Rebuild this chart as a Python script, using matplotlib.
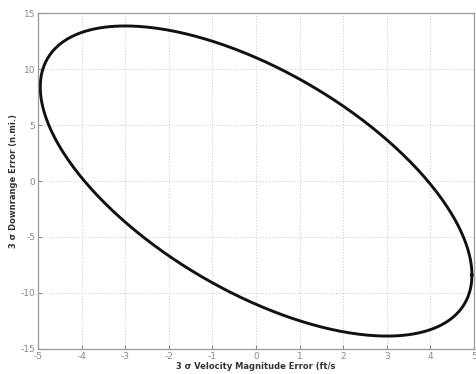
import numpy as np
import matplotlib
matplotlib.use('Agg')
import matplotlib.pyplot as plt

plt.rcParams['axes.unicode_minus'] = False

# 3-sigma error ellipse values
sigma3_vel = 4.95      # ft/s, max horizontal extent
sigma3_down = 13.85    # n.mi., max vertical extent
rho = -0.606           # correlation
x_ticks = [-5, -4, -3, -2, -1, 0, 1, 2, 3, 4, 5]
y_ticks = [-15, -10, -5, 0, 5, 10, 15]

t = np.linspace(0, 2 * np.pi, 400)
vel_err = sigma3_vel * np.cos(t)
down_err = sigma3_down * (rho * np.cos(t) + np.sqrt(1 - rho ** 2) * np.sin(t))

fig = plt.figure(figsize=(4.76, 3.74), dpi=100)
ax = fig.add_axes([0.08, 0.067, 0.916, 0.898])
ax.plot(vel_err, down_err, color='#111111', linewidth=2.1)

ax.set_xlim(-5, 5)
ax.set_ylim(-15, 15)
ax.set_xticks(x_ticks)
ax.set_yticks(y_ticks)
ax.grid(True, linestyle=(0, (1, 2)), color='#c8c8c8', linewidth=0.7)
ax.tick_params(labelsize=6.5, colors='#888888', length=3, direction='in', pad=2)
for s in ax.spines.values():
    s.set_color('#999999')
    s.set_linewidth(0.9)

ax.set_xlabel('3 σ Velocity Magnitude Error (ft/s', fontsize=6, fontweight='bold',
              color='#333333', labelpad=1)
ax.set_ylabel('3 σ Downrange Error (n.mi.)', fontsize=6, fontweight='bold',
              color='#333333', labelpad=2)

fig.savefig('out.png', dpi=100)
